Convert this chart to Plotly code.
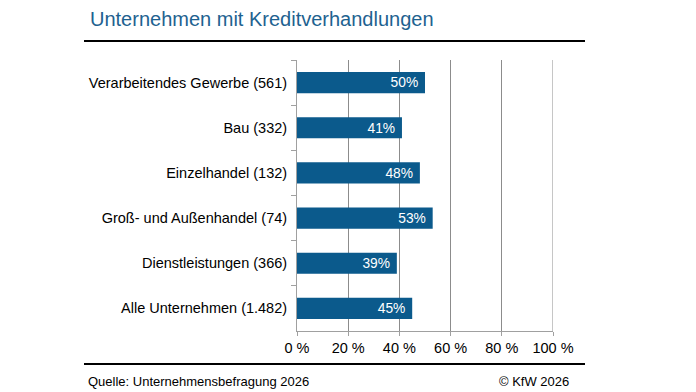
import plotly.graph_objects as go

categories = [
    "Verarbeitendes Gewerbe (561)",
    "Bau (332)",
    "Einzelhandel (132)",
    "Groß- und Außenhandel (74)",
    "Dienstleistungen (366)",
    "Alle Unternehmen (1.482)",
]
values = [50, 41, 48, 53, 39, 45]
tick_vals = [0, 20, 40, 60, 80, 100]
tick_text = ["0 %", "20 %", "40 %", "60 %", "80 %", "100 %"]

W, H = 696, 392
L, R, T, B = 297, 143, 60, 61
pw, ph = W - L - R, H - T - B

def px_x(x):
    return (x - L) / pw

def px_y(y):
    return (H - B - y) / ph

fig = go.Figure(go.Bar(
    x=values,
    y=categories,
    orientation="h",
    marker=dict(color="#0B5A8C", line=dict(width=0)),
    width=0.47,
    text=[f"{v}%\u00a0" for v in values],
    textposition="inside",
    insidetextanchor="end",
    textfont=dict(color="white", size=14.5, family="Liberation Sans, Arial, sans-serif"),
    hoverinfo="skip",
))

fig.update_layout(
    width=W, height=H,
    margin=dict(l=L, r=R, t=T, b=B),
    paper_bgcolor="white",
    plot_bgcolor="white",
    showlegend=False,
    font=dict(family="Liberation Sans, Arial, sans-serif", size=14.5, color="#000000"),
    title=dict(
        text="Unternehmen mit Kreditverhandlungen",
        xref="container", yref="container",
        x=90 / W, xanchor="left",
        y=1 - 19 / H, yanchor="middle",
        font=dict(size=20, color="#1E6290", family="Liberation Sans, Arial, sans-serif"),
    ),
    xaxis=dict(
        range=[0, 100],
        tickvals=tick_vals,
        ticktext=tick_text,
        showgrid=True,
        gridcolor="#8C8C8C",
        gridwidth=1,
        showline=True,
        linecolor="#A0A0A0",
        linewidth=1,
        ticks="outside",
        ticklen=4,
        tickcolor="#A0A0A0",
        tickfont=dict(size=14.5, color="#000000"),
        zeroline=False,
        fixedrange=True,
    ),
    yaxis=dict(
        autorange="reversed",
        showline=True,
        linecolor="#A0A0A0",
        linewidth=1,
        ticks="outside",
        tickson="boundaries",
        ticklen=5,
        tickcolor="#A0A0A0",
        ticklabelstandoff=6,
        tickfont=dict(size=14.5, color="#000000"),
        showgrid=False,
        fixedrange=True,
    ),
    shapes=[
        dict(type="line", xref="x", yref="paper",
             x0=tick_vals[-1], x1=tick_vals[-1], y0=0, y1=1, layer="below",
             line=dict(color="#8C8C8C", width=1)),
        dict(type="line", xref="paper", yref="paper",
             x0=px_x(84), x1=px_x(585), y0=px_y(41), y1=px_y(41),
             line=dict(color="#000000", width=2)),
        dict(type="line", xref="paper", yref="paper",
             x0=px_x(84), x1=px_x(585), y0=px_y(364), y1=px_y(364),
             line=dict(color="#000000", width=2)),
    ],
    annotations=[
        dict(text="Quelle: Unternehmensbefragung 2026", xref="paper", yref="paper",
             x=px_x(86), y=px_y(381), xanchor="left", yanchor="middle",
             showarrow=False, font=dict(size=13, color="#000000")),
        dict(text="© KfW 2026", xref="paper", yref="paper",
             x=px_x(571), y=px_y(381), xanchor="right", yanchor="middle",
             showarrow=False, font=dict(size=13, color="#000000")),
    ],
)

fig.write_html("out.html")
